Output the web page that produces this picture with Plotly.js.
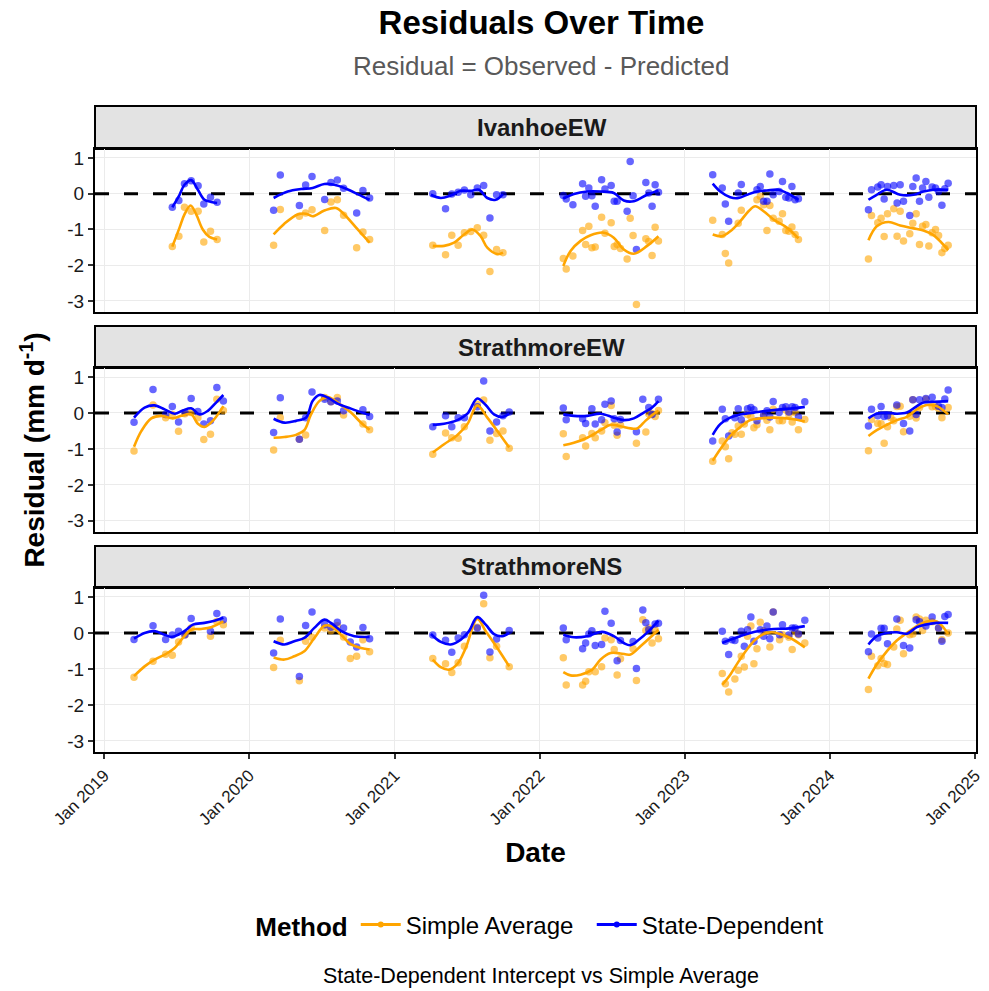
<!DOCTYPE html>
<html><head><meta charset="utf-8">
<script src="https://cdn.plot.ly/plotly-3.0.1.min.js"></script>
<style>html,body{margin:0;padding:0;background:#fff}</style></head>
<body><div id="chart" style="width:989px;height:991px"></div>
<script>
const facets = ['IvanhoeEW', 'StrathmoreEW', 'StrathmoreNS'];
const methods = ['Simple Average', 'State-Dependent'];
const methodColors = ['#FFA500', '#0000FF'];
const yTicks = [-3, -2, -1, 0, 1];
const zeroLevel = 0;

// points: [decimal year, residual]
const ivanhoeSimple = [
[2019.470,-1.48],[2019.515,-1.19],[2019.554,-0.38],[2019.600,-0.49],[2019.648,-0.49],[2019.687,-1.35],[2019.733,-1.05],[2019.779,-1.28],
[2020.168,-1.44],[2020.214,-0.44],[2020.345,-0.63],[2020.388,-0.54],[2020.432,-0.45],[2020.519,-1.03],[2020.562,-0.23],[2020.606,-0.17],[2020.649,-0.60],[2020.739,-1.51],[2020.782,-1.07],[2020.828,-1.28],
[2021.263,-1.44],[2021.351,-1.71],[2021.394,-1.16],[2021.438,-1.44],[2021.481,-1.09],[2021.525,-1.06],[2021.570,-0.95],[2021.614,-1.16],[2021.657,-2.18],[2021.703,-1.56],[2021.747,-1.65],
[2022.163,-1.81],[2022.183,-2.11],[2022.229,-1.74],[2022.296,-1.03],[2022.317,-1.42],[2022.339,-0.91],[2022.360,-1.51],[2022.383,-1.49],[2022.427,-0.66],[2022.450,-1.11],[2022.493,-0.81],[2022.514,-1.48],[2022.534,-1.42],[2022.557,-1.53],[2022.603,-1.83],[2022.624,-0.69],[2022.644,-1.17],[2022.667,-3.10],[2022.732,-1.26],[2022.752,-1.34],[2022.775,-1.73],[2022.796,-0.94],[2022.819,-1.32],
[2023.193,-0.74],[2023.259,-1.14],[2023.280,-1.67],[2023.303,-1.94],[2023.369,-0.83],[2023.390,-0.46],[2023.498,-0.17],[2023.521,-0.07],[2023.544,-0.31],[2023.567,-1.03],[2023.587,-0.33],[2023.610,-0.69],[2023.651,-0.77],[2023.674,-0.56],[2023.697,-1.03],[2023.718,-1.05],[2023.739,-0.93],[2023.761,-1.14],[2023.784,-1.28],
[2024.266,-1.83],[2024.287,-0.61],[2024.330,-0.81],[2024.353,-0.69],[2024.374,-1.20],[2024.397,-0.56],[2024.440,-0.42],[2024.463,-1.19],[2024.484,-0.49],[2024.507,-1.32],[2024.550,-1.12],[2024.571,-0.83],[2024.594,-0.56],[2024.617,-1.42],[2024.638,-0.91],[2024.661,-0.86],[2024.681,-1.46],[2024.704,-1.09],[2024.727,-1.00],[2024.748,-1.17],[2024.771,-1.65],[2024.791,-1.53],[2024.814,-1.44]
];
const ivanhoeState = [
[2019.470,-0.38],[2019.515,-0.19],[2019.554,0.28],[2019.600,0.36],[2019.648,0.22],[2019.687,-0.29],[2019.733,-0.10],[2019.779,-0.24],
[2020.168,-0.46],[2020.214,0.52],[2020.345,-0.33],[2020.388,0.24],[2020.432,0.48],[2020.519,-0.16],[2020.562,0.31],[2020.606,0.38],[2020.649,0.15],[2020.739,-0.54],[2020.782,0.09],[2020.828,-0.12],
[2021.263,0.00],[2021.351,-0.42],[2021.394,-0.01],[2021.438,0.04],[2021.481,0.10],[2021.525,-0.03],[2021.570,0.16],[2021.614,0.23],[2021.657,-0.68],[2021.703,-0.03],[2021.747,-0.03],
[2022.163,-0.05],[2022.183,-0.15],[2022.229,-0.31],[2022.296,0.28],[2022.317,-0.07],[2022.339,0.16],[2022.360,-0.06],[2022.383,-0.35],[2022.427,0.39],[2022.450,0.13],[2022.493,0.23],[2022.514,-0.21],[2022.534,-0.21],[2022.603,-0.49],[2022.624,0.90],[2022.644,-0.06],[2022.667,-1.56],[2022.732,0.31],[2022.752,0.02],[2022.775,-0.35],[2022.796,0.25],[2022.819,0.04],
[2023.193,0.53],[2023.259,0.16],[2023.280,-0.29],[2023.303,-0.77],[2023.369,0.02],[2023.390,0.26],[2023.498,0.11],[2023.521,0.20],[2023.544,-0.21],[2023.567,-0.21],[2023.587,0.55],[2023.610,-0.03],[2023.651,0.06],[2023.674,0.34],[2023.697,-0.10],[2023.718,-0.12],[2023.739,0.20],[2023.761,-0.17],[2023.784,-0.14],
[2024.266,-0.45],[2024.287,0.11],[2024.330,0.19],[2024.353,0.25],[2024.374,-0.15],[2024.397,0.20],[2024.440,0.23],[2024.463,-0.26],[2024.484,0.25],[2024.507,-0.21],[2024.550,-0.61],[2024.571,0.20],[2024.594,0.44],[2024.617,-0.21],[2024.638,0.16],[2024.661,0.34],[2024.681,-0.10],[2024.704,0.19],[2024.727,0.16],[2024.748,0.06],[2024.771,-0.32],[2024.791,0.14],[2024.814,0.29]
];
const ewSimple = [
[2019.206,-1.06],[2019.337,0.22],[2019.424,-0.13],[2019.470,-0.04],[2019.513,-0.51],[2019.557,-0.02],[2019.600,0.01],[2019.646,-0.13],[2019.687,-0.74],[2019.733,-0.59],[2019.777,0.38],[2019.822,0.07],
[2020.168,-1.03],[2020.214,-0.13],[2020.345,-0.73],[2020.388,-0.61],[2020.519,0.43],[2020.562,0.31],[2020.606,0.43],[2020.649,-0.06],[2020.782,-0.31],[2020.828,-0.47],
[2021.263,-1.15],[2021.351,-0.56],[2021.394,-0.69],[2021.438,-0.70],[2021.481,-0.38],[2021.570,0.24],[2021.614,0.36],[2021.657,-0.76],[2021.703,-0.57],[2021.747,-0.50],[2021.790,-0.98],
[2022.163,-0.58],[2022.183,-1.21],[2022.296,-0.69],[2022.317,-0.92],[2022.360,-0.57],[2022.383,-0.69],[2022.427,-0.50],[2022.450,-0.27],[2022.493,0.21],[2022.514,-0.34],[2022.534,-0.62],[2022.557,-0.34],[2022.667,-0.84],[2022.732,-0.53],[2022.752,-0.02],[2022.775,-0.02],[2022.796,-0.10],[2022.819,0.07],
[2023.193,-1.34],[2023.259,-0.78],[2023.280,-0.94],[2023.303,-1.27],[2023.326,-0.55],[2023.346,-0.59],[2023.369,-0.36],[2023.390,-0.59],[2023.411,-0.31],[2023.433,-0.04],[2023.456,-0.10],[2023.477,-0.41],[2023.498,-0.33],[2023.544,-0.08],[2023.567,-0.20],[2023.587,-0.47],[2023.610,0.10],[2023.651,-0.22],[2023.674,-0.22],[2023.697,0.08],[2023.718,-0.04],[2023.741,-0.25],[2023.761,0.01],[2023.784,-0.47],[2023.828,-0.18],
[2024.266,-1.05],[2024.287,-0.18],[2024.330,-0.29],[2024.353,-0.30],[2024.374,-0.84],[2024.397,-0.38],[2024.420,-0.13],[2024.440,-0.22],[2024.461,0.18],[2024.484,0.19],[2024.507,-0.52],[2024.550,-0.09],[2024.571,0.37],[2024.594,-0.14],[2024.617,0.15],[2024.661,0.38],[2024.704,0.17],[2024.727,0.18],[2024.748,0.13],[2024.771,-0.13],[2024.814,0.15]
];
const ewState = [
[2019.206,-0.26],[2019.337,0.65],[2019.424,-0.04],[2019.470,0.18],[2019.513,-0.25],[2019.557,0.01],[2019.600,0.40],[2019.646,0.04],[2019.687,-0.31],[2019.733,-0.22],[2019.777,0.71],[2019.822,0.33],
[2020.168,-0.54],[2020.214,0.42],[2020.345,-0.73],[2020.388,-0.13],[2020.432,0.58],[2020.519,0.38],[2020.562,0.31],[2020.606,0.33],[2020.649,0.06],[2020.782,0.09],[2020.828,-0.10],
[2021.263,-0.38],[2021.351,-0.08],[2021.394,-0.38],[2021.438,-0.13],[2021.481,-0.13],[2021.570,0.17],[2021.614,0.89],[2021.657,-0.50],[2021.703,-0.25],[2021.747,-0.08],[2021.790,0.03],
[2022.163,0.14],[2022.183,-0.19],[2022.296,-0.16],[2022.317,-0.29],[2022.360,0.12],[2022.383,-0.31],[2022.427,-0.19],[2022.450,0.24],[2022.493,0.33],[2022.514,-0.16],[2022.534,-0.53],[2022.557,-0.18],[2022.667,-0.52],[2022.711,0.38],[2022.752,0.15],[2022.775,-0.04],[2022.819,0.38],
[2023.193,-0.78],[2023.259,0.10],[2023.280,-0.16],[2023.303,-0.64],[2023.346,-0.13],[2023.369,0.12],[2023.390,-0.19],[2023.433,0.12],[2023.456,0.15],[2023.477,0.09],[2023.498,-0.22],[2023.544,-0.06],[2023.567,0.06],[2023.587,-0.11],[2023.610,0.32],[2023.651,0.01],[2023.674,0.15],[2023.697,0.17],[2023.718,0.03],[2023.741,0.17],[2023.761,0.15],[2023.784,-0.11],[2023.828,0.31],
[2024.266,-0.36],[2024.287,0.10],[2024.330,-0.08],[2024.353,0.18],[2024.374,-0.10],[2024.397,-0.08],[2024.461,0.22],[2024.507,-0.29],[2024.550,-0.50],[2024.571,0.37],[2024.594,-0.04],[2024.617,0.37],[2024.661,0.40],[2024.704,0.44],[2024.748,0.19],[2024.771,0.15],[2024.791,0.39],[2024.814,0.64]
];
const nsSimple = [
[2019.206,-1.23],[2019.337,-0.79],[2019.424,-0.59],[2019.470,-0.62],[2019.513,-0.25],[2019.557,-0.06],[2019.600,0.14],[2019.733,-0.09],[2019.777,0.32],[2019.822,0.23],
[2020.168,-0.96],[2020.214,-0.20],[2020.345,-1.33],[2020.388,-0.23],[2020.432,-0.12],[2020.519,0.14],[2020.562,0.06],[2020.606,0.20],[2020.649,-0.11],[2020.695,-0.71],[2020.739,-0.65],[2020.782,-0.19],[2020.828,-0.52],
[2021.263,-0.71],[2021.351,-0.86],[2021.394,-1.10],[2021.438,-0.83],[2021.481,-0.37],[2021.570,0.16],[2021.614,0.81],[2021.657,-0.69],[2021.703,-0.37],[2021.790,-0.94],
[2022.163,-0.69],[2022.183,-1.45],[2022.296,-1.45],[2022.317,-1.34],[2022.339,-1.08],[2022.383,-1.08],[2022.427,-0.94],[2022.450,-0.14],[2022.493,-0.19],[2022.514,-0.46],[2022.534,-1.17],[2022.557,-0.72],[2022.644,-0.44],[2022.667,-1.32],[2022.711,0.37],[2022.732,0.07],[2022.752,0.14],[2022.775,-0.28],[2022.796,0.09],[2022.819,-0.16],
[2023.259,-1.13],[2023.280,-1.41],[2023.303,-1.64],[2023.346,-1.28],[2023.369,-1.04],[2023.390,-0.65],[2023.411,-0.95],[2023.433,-0.09],[2023.456,0.19],[2023.477,-0.86],[2023.498,-0.44],[2023.521,0.30],[2023.544,0.06],[2023.587,-0.39],[2023.610,0.58],[2023.654,-0.19],[2023.674,-0.05],[2023.718,-0.12],[2023.741,-0.46],[2023.761,0.03],[2023.784,-0.05],[2023.828,-0.28],
[2024.266,-1.57],[2024.287,-0.65],[2024.330,-0.91],[2024.353,-0.71],[2024.374,-0.85],[2024.397,-0.88],[2024.440,-0.39],[2024.461,0.11],[2024.484,0.35],[2024.507,-0.58],[2024.550,-0.05],[2024.571,-0.03],[2024.594,0.44],[2024.617,0.39],[2024.638,0.07],[2024.661,0.35],[2024.704,0.31],[2024.748,0.14],[2024.771,-0.19],[2024.814,0.00]
];
const nsState = [
[2019.206,-0.18],[2019.337,0.20],[2019.424,-0.18],[2019.470,-0.06],[2019.513,0.05],[2019.557,-0.05],[2019.600,0.40],[2019.733,0.05],[2019.777,0.54],[2019.822,0.37],
[2020.168,-0.56],[2020.214,0.39],[2020.345,-1.21],[2020.388,0.21],[2020.432,0.58],[2020.519,0.23],[2020.562,0.16],[2020.606,0.30],[2020.649,0.14],[2020.695,-0.25],[2020.739,-0.39],[2020.782,0.15],[2020.828,-0.16],
[2021.263,-0.06],[2021.351,-0.20],[2021.394,-0.54],[2021.438,-0.14],[2021.481,-0.05],[2021.570,0.14],[2021.614,1.05],[2021.657,-0.53],[2021.703,-0.17],[2021.790,0.07],
[2022.163,0.14],[2022.183,-0.19],[2022.296,-0.44],[2022.317,-0.28],[2022.339,-0.03],[2022.360,0.06],[2022.383,-0.35],[2022.427,-0.32],[2022.450,0.60],[2022.493,0.27],[2022.534,-0.77],[2022.557,-0.21],[2022.644,-0.24],[2022.667,-0.99],[2022.711,0.64],[2022.732,0.28],[2022.752,0.09],[2022.796,0.25],[2022.819,0.27],
[2023.259,0.05],[2023.280,-0.23],[2023.303,-0.60],[2023.326,-0.19],[2023.346,-0.21],[2023.390,0.05],[2023.411,-0.37],[2023.433,0.09],[2023.456,0.44],[2023.477,-0.23],[2023.521,0.09],[2023.544,-0.09],[2023.567,0.19],[2023.587,-0.16],[2023.610,0.58],[2023.654,-0.05],[2023.674,0.23],[2023.718,-0.06],[2023.741,0.14],[2023.761,0.14],[2023.784,-0.03],[2023.828,0.35],
[2024.266,-0.52],[2024.287,-0.03],[2024.330,-0.14],[2024.353,0.13],[2024.374,0.13],[2024.397,-0.30],[2024.461,0.39],[2024.507,-0.35],[2024.550,-0.42],[2024.594,0.37],[2024.617,0.31],[2024.661,0.19],[2024.704,0.44],[2024.748,0.14],[2024.771,-0.23],[2024.791,0.46],[2024.814,0.51]
];

// smoothed (loess) curves: [decimal year, residual]
const ivanhoeSimpleFit = [
[2019.470,-1.48],[2019.520,-0.95],[2019.554,-0.58],[2019.596,-0.33],[2019.635,-0.58],[2019.680,-1.00],[2019.726,-1.21],[2019.779,-1.28],
[2020.168,-1.14],[2020.242,-0.84],[2020.333,-0.58],[2020.391,-0.56],[2020.436,-0.63],[2020.517,-0.47],[2020.597,-0.40],[2020.654,-0.58],[2020.746,-1.00],[2020.828,-1.37],
[2021.263,-1.46],[2021.341,-1.46],[2021.410,-1.37],[2021.479,-1.14],[2021.536,-1.00],[2021.593,-1.19],[2021.639,-1.51],[2021.708,-1.69],[2021.747,-1.65],
[2022.163,-2.02],[2022.213,-1.60],[2022.282,-1.32],[2022.351,-1.16],[2022.443,-1.09],[2022.511,-1.23],[2022.580,-1.56],[2022.649,-1.68],[2022.741,-1.46],[2022.819,-1.19],
[2023.193,-1.14],[2023.257,-1.19],[2023.314,-1.05],[2023.383,-0.77],[2023.440,-0.49],[2023.486,-0.35],[2023.544,-0.49],[2023.612,-0.72],[2023.704,-0.95],[2023.784,-1.25],
[2024.266,-1.30],[2024.323,-0.91],[2024.404,-0.79],[2024.484,-0.89],[2024.576,-0.97],[2024.644,-1.03],[2024.713,-1.16],[2024.814,-1.58]
];
const ivanhoeStateFit = [
[2019.470,-0.38],[2019.520,-0.03],[2019.554,0.25],[2019.600,0.38],[2019.646,0.11],[2019.692,-0.17],[2019.738,-0.23],[2019.779,-0.26],
[2020.168,-0.12],[2020.265,0.06],[2020.356,0.13],[2020.436,0.16],[2020.517,0.27],[2020.585,0.25],[2020.654,0.16],[2020.746,-0.01],[2020.828,-0.17],
[2021.250,-0.03],[2021.318,-0.12],[2021.387,-0.05],[2021.456,0.08],[2021.525,0.08],[2021.582,0.11],[2021.639,-0.12],[2021.697,-0.17],[2021.747,-0.01],
[2022.163,-0.14],[2022.236,-0.01],[2022.328,0.06],[2022.420,0.06],[2022.511,0.02],[2022.580,-0.19],[2022.649,-0.21],[2022.741,-0.03],[2022.819,0.09],
[2023.193,0.28],[2023.245,0.06],[2023.314,-0.10],[2023.372,-0.12],[2023.429,-0.03],[2023.498,0.06],[2023.567,0.09],[2023.647,0.11],[2023.704,0.02],[2023.784,-0.17],
[2024.266,-0.17],[2024.323,-0.03],[2024.392,0.11],[2024.484,-0.03],[2024.576,-0.03],[2024.644,0.06],[2024.713,0.11],[2024.814,0.11]
];
const ewSimpleFit = [
[2019.206,-0.94],[2019.257,-0.50],[2019.325,-0.15],[2019.394,-0.08],[2019.474,-0.15],[2019.531,-0.08],[2019.600,-0.04],[2019.646,-0.30],[2019.692,-0.39],[2019.749,-0.22],[2019.822,0.19],
[2020.168,-0.69],[2020.242,-0.67],[2020.322,-0.61],[2020.379,-0.48],[2020.425,-0.04],[2020.482,0.33],[2020.540,0.44],[2020.608,0.29],[2020.700,0.01],[2020.769,-0.27],[2020.828,-0.47],
[2021.263,-1.10],[2021.341,-0.87],[2021.433,-0.61],[2021.502,-0.31],[2021.570,0.21],[2021.639,-0.13],[2021.708,-0.50],[2021.790,-0.96],
[2022.163,-0.90],[2022.236,-0.83],[2022.328,-0.69],[2022.420,-0.48],[2022.489,-0.33],[2022.557,-0.37],[2022.626,-0.43],[2022.672,-0.43],[2022.729,-0.22],[2022.775,-0.06],[2022.819,0.07],
[2023.193,-1.33],[2023.245,-1.01],[2023.314,-0.64],[2023.383,-0.39],[2023.452,-0.20],[2023.521,-0.15],[2023.612,-0.13],[2023.704,-0.15],[2023.773,-0.19],[2023.828,-0.24],
[2024.266,-0.64],[2024.323,-0.48],[2024.392,-0.33],[2024.461,-0.20],[2024.530,-0.11],[2024.599,0.10],[2024.667,0.22],[2024.736,0.19],[2024.782,0.07],[2024.814,-0.04]
];
const ewStateFit = [
[2019.206,-0.13],[2019.279,0.15],[2019.348,0.21],[2019.417,0.10],[2019.486,-0.02],[2019.543,0.07],[2019.600,0.13],[2019.658,-0.04],[2019.715,0.06],[2019.772,0.29],[2019.822,0.50],
[2020.168,-0.16],[2020.242,-0.27],[2020.322,-0.22],[2020.391,-0.13],[2020.436,0.33],[2020.482,0.50],[2020.540,0.43],[2020.608,0.26],[2020.700,0.12],[2020.828,-0.06],
[2021.263,-0.33],[2021.341,-0.30],[2021.433,-0.20],[2021.502,-0.02],[2021.570,0.40],[2021.628,0.22],[2021.685,-0.04],[2021.742,-0.11],[2021.790,-0.02],
[2022.163,-0.04],[2022.236,-0.08],[2022.328,-0.08],[2022.420,-0.02],[2022.511,-0.13],[2022.580,-0.20],[2022.649,-0.15],[2022.718,0.01],[2022.775,0.15],[2022.819,0.33],
[2023.193,-0.61],[2023.245,-0.31],[2023.314,-0.13],[2023.383,-0.04],[2023.475,0.01],[2023.567,0.06],[2023.658,0.10],[2023.750,0.13],[2023.828,0.17],
[2024.266,-0.15],[2024.323,-0.02],[2024.392,0.01],[2024.461,-0.02],[2024.530,0.01],[2024.599,0.19],[2024.644,0.29],[2024.713,0.31],[2024.814,0.33]
];
const nsSimpleFit = [
[2019.206,-1.20],[2019.279,-0.93],[2019.348,-0.74],[2019.428,-0.58],[2019.486,-0.42],[2019.543,-0.14],[2019.600,0.09],[2019.669,0.11],[2019.738,0.16],[2019.822,0.32],
[2020.168,-0.68],[2020.242,-0.74],[2020.310,-0.65],[2020.379,-0.51],[2020.448,-0.14],[2020.517,0.20],[2020.562,0.19],[2020.631,-0.05],[2020.700,-0.32],[2020.769,-0.42],[2020.828,-0.46],
[2021.263,-0.74],[2021.318,-0.95],[2021.376,-1.02],[2021.433,-0.86],[2021.490,-0.42],[2021.570,0.39],[2021.628,0.05],[2021.708,-0.42],[2021.790,-0.93],
[2022.163,-1.09],[2022.213,-1.18],[2022.282,-1.16],[2022.362,-1.02],[2022.420,-0.74],[2022.489,-0.56],[2022.557,-0.57],[2022.626,-0.60],[2022.695,-0.37],[2022.764,-0.12],[2022.819,0.09],
[2023.259,-1.44],[2023.314,-1.16],[2023.372,-0.79],[2023.429,-0.46],[2023.486,-0.19],[2023.544,-0.03],[2023.601,0.02],[2023.658,-0.03],[2023.727,-0.14],[2023.796,-0.31],[2023.828,-0.40],
[2024.266,-1.27],[2024.323,-0.88],[2024.392,-0.51],[2024.461,-0.21],[2024.530,0.00],[2024.599,0.19],[2024.667,0.32],[2024.736,0.32],[2024.814,-0.03]
];
const nsStateFit = [
[2019.206,-0.16],[2019.279,0.00],[2019.348,0.05],[2019.417,-0.05],[2019.467,-0.11],[2019.520,-0.03],[2019.566,0.09],[2019.612,0.23],[2019.692,0.28],[2019.761,0.34],[2019.822,0.42],
[2020.168,-0.23],[2020.242,-0.32],[2020.310,-0.23],[2020.379,-0.14],[2020.448,0.14],[2020.517,0.37],[2020.562,0.28],[2020.631,0.06],[2020.723,-0.09],[2020.828,-0.11],
[2021.250,-0.03],[2021.318,-0.25],[2021.387,-0.32],[2021.456,-0.19],[2021.513,0.05],[2021.570,0.44],[2021.628,0.23],[2021.685,-0.03],[2021.742,-0.09],[2021.790,0.00],
[2022.163,-0.05],[2022.236,-0.12],[2022.328,-0.09],[2022.431,0.03],[2022.511,-0.09],[2022.580,-0.28],[2022.626,-0.34],[2022.683,-0.19],[2022.752,0.05],[2022.819,0.34],
[2023.259,-0.28],[2023.314,-0.19],[2023.383,-0.09],[2023.452,0.00],[2023.521,0.06],[2023.612,0.11],[2023.704,0.12],[2023.828,0.19],
[2024.266,-0.32],[2024.323,-0.09],[2024.392,0.00],[2024.461,0.02],[2024.530,-0.02],[2024.599,0.16],[2024.656,0.23],[2024.736,0.28],[2024.814,0.28]
];

const pointSets = [[ivanhoeSimple, ivanhoeState], [ewSimple, ewState], [nsSimple, nsState]];
const fitSets = [[ivanhoeSimpleFit, ivanhoeStateFit], [ewSimpleFit, ewStateFit], [nsSimpleFit, nsStateFit]];
const xRange = ['2018-12-09', '2025-01-03'];

function toDate(t) {
  const y = Math.floor(t);
  const a = Date.UTC(y, 0, 1), b = Date.UTC(y + 1, 0, 1);
  return new Date(a + (t - y) * (b - a)).toISOString().slice(0, 19);
}
function ptsXY(pairs) {
  return { x: pairs.map(p => toDate(p[0])), y: pairs.map(p => p[1]) };
}
function fitXY(pairs) {
  const x = [], y = [];
  let prev = null;
  pairs.forEach(p => {
    const yr = Math.floor(p[0]);
    if (prev !== null && yr !== prev) { x.push(null); y.push(null); }
    x.push(toDate(p[0])); y.push(p[1]); prev = yr;
  });
  return { x, y };
}

const FONT = 'Liberation Sans, Arial, Helvetica, sans-serif';
const traces = [];
facets.forEach((f, i) => {
  const xa = 'x' + (i ? i + 1 : ''), ya = 'y' + (i ? i + 1 : '');
  // dashed reference line at zero across the full axis range
  traces.push({ type: 'scatter', mode: 'lines', x: xRange, y: [zeroLevel, zeroLevel], xaxis: xa, yaxis: ya,
    line: { color: '#000', width: 3, dash: '14px,15px' }, showlegend: false, hoverinfo: 'skip' });
  [0, 1].forEach(m => {
    const d = ptsXY(pointSets[i][m]);
    traces.push({ type: 'scatter', mode: 'markers', x: d.x, y: d.y, xaxis: xa, yaxis: ya,
      marker: { color: methodColors[m], size: 7.5, opacity: 0.6 }, showlegend: false, hoverinfo: 'skip' });
  });
  [0, 1].forEach(m => {
    const d = fitXY(fitSets[i][m]);
    traces.push({ type: 'scatter', mode: 'lines', x: d.x, y: d.y, xaxis: xa, yaxis: ya,
      line: { color: methodColors[m], width: 2.6, shape: 'spline', smoothing: 1 }, connectgaps: false,
      showlegend: false, hoverinfo: 'skip' });
  });
});
// legend entries
methods.forEach((m, k) => {
  traces.push({ type: 'scatter', mode: 'lines+markers', x: [null], y: [null], name: m + '  ',
    line: { color: methodColors[k], width: 3 }, marker: { color: methodColors[k], size: 6 }, showlegend: true });
});

const yDomains = [[0.6811, 0.9334], [0.3406, 0.5944], [0, 0.2539]];
const stripDomains = [[0.9334, 1.0], [0.5944, 0.6594], [0.2539, 0.3189]];

const layout = {
  width: 989, height: 991,
  margin: { l: 95, r: 13, t: 106, b: 239 },
  paper_bgcolor: '#ffffff', plot_bgcolor: '#ffffff',
  font: { family: FONT, color: '#000' },
  title: { text: '<b>Residuals Over Time</b>', font: { size: 33, family: FONT, color: '#000' },
    xref: 'paper', x: 0.5068, xanchor: 'center', yref: 'container', y: 0.977, yanchor: 'middle' },
  showlegend: true,
  legend: { orientation: 'h', xref: 'paper', yref: 'paper', x: 0.514, xanchor: 'center', y: -0.2678, yanchor: 'middle',
    font: { size: 24, family: FONT, color: '#000' }, title: { text: '<b>Method</b>', font: { size: 26, family: FONT, color: '#000' }, side: 'left' },
    traceorder: 'normal', itemwidth: 40, bgcolor: 'rgba(0,0,0,0)' },
  shapes: [], annotations: []
};

facets.forEach((f, i) => {
  const xk = 'xaxis' + (i ? i + 1 : ''), yk = 'yaxis' + (i ? i + 1 : '');
  const ya = 'y' + (i ? i + 1 : ''), xa = 'x' + (i ? i + 1 : '');
  const bottom = i === facets.length - 1;
  layout[xk] = {
    type: 'date', range: xRange, domain: [0, 1], anchor: ya,
    tick0: '2019-01-01', dtick: 'M12', tickformat: '%b %Y',
    showgrid: true, gridcolor: '#ebebeb', gridwidth: 1, zeroline: false,
    showline: true, mirror: true, linecolor: '#000', linewidth: 2,
    ticks: bottom ? 'outside' : '', ticklen: 5, tickwidth: 1.5, tickcolor: '#333',
    showticklabels: bottom, tickangle: -45, tickfont: { size: 17, family: FONT, color: '#1a1a1a' }
  };
  if (bottom) layout[xk].title = { text: '<b>Date</b>', font: { size: 28, family: FONT, color: '#000' }, standoff: 14 };
  if (i > 0) layout[xk].matches = 'x';
  layout[yk] = {
    range: [-3.31, 1.25], domain: yDomains[i], anchor: xa,
    tickvals: yTicks, ticktext: yTicks.map(String),
    showgrid: true, gridcolor: '#ebebeb', gridwidth: 1, zeroline: false,
    showline: true, mirror: true, linecolor: '#000', linewidth: 2,
    ticks: 'outside', ticklen: 5, tickwidth: 1.5, tickcolor: '#333',
    tickfont: { size: 19, family: FONT, color: '#1a1a1a' }
  };
  if (i === 1) layout[yk].title = { text: '<b>Residual (mm d<sup>-1</sup>)</b>', font: { size: 28, family: FONT, color: '#000' }, standoff: 14 };
  // strip
  layout.shapes.push({ type: 'rect', layer: 'below', xref: 'paper', yref: 'paper', x0: 0, x1: 1, y0: stripDomains[i][0], y1: stripDomains[i][1],
    fillcolor: '#e3e3e3', line: { color: '#000', width: 2 } });
  layout.annotations.push({ text: '<b>' + f + '</b>', xref: 'paper', yref: 'paper', x: 0.507, y: (stripDomains[i][0] + stripDomains[i][1]) / 2,
    xanchor: 'center', yanchor: 'middle', showarrow: false, font: { size: 24, family: FONT, color: '#1a1a1a' } });
});

layout.annotations.push({ text: 'Residual = Observed - Predicted', xref: 'paper', yref: 'paper', x: 0.5068, y: 1.062,
  xanchor: 'center', yanchor: 'middle', showarrow: false, font: { size: 26, family: FONT, color: '#595959' } });
layout.annotations.push({ text: 'State-Dependent Intercept vs Simple Average', xref: 'paper', yref: 'paper', x: 0.5068, y: -0.3467,
  xanchor: 'center', yanchor: 'middle', showarrow: false, font: { size: 21.5, family: FONT, color: '#000' } });

Plotly.newPlot('chart', traces, layout, { displayModeBar: false, responsive: false });
</script>
</body></html>
